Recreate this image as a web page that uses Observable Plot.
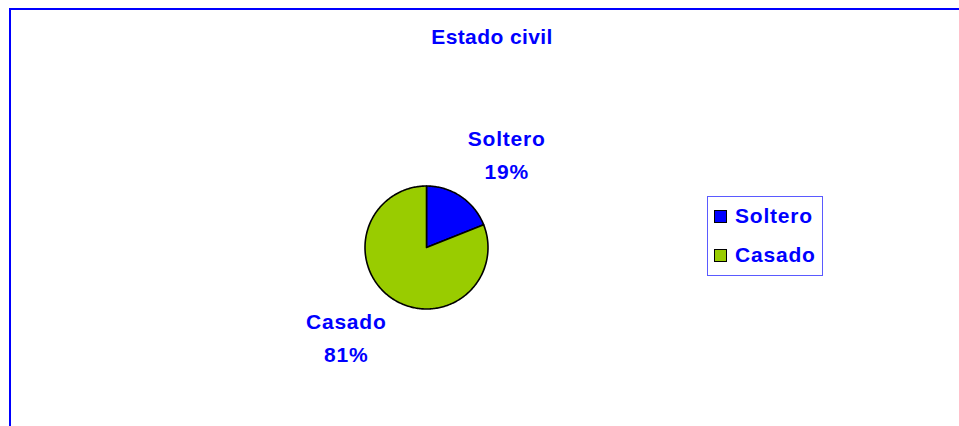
<!DOCTYPE html>
<html>
<head>
<meta charset="utf-8">
<script src="https://cdn.jsdelivr.net/npm/d3@7"></script>
<script src="https://cdn.jsdelivr.net/npm/@observablehq/plot@0.6"></script>
<style>
  html, body { margin: 0; padding: 0; background: #fff; }
  #wrap { position: relative; width: 959px; height: 426px; overflow: hidden; font-family: "Liberation Sans", Arial, sans-serif; }
  #frame { position: absolute; left: 9px; top: 8px; width: 960px; height: 430px; border-top: 2px solid #0000ff; border-left: 2px solid #0000ff; box-sizing: border-box; }
  #title { position: absolute; left: 392px; width: 200px; top: 25px; text-align: center; font-weight: bold; font-size: 21px; color: #0000ff; line-height: 24px; letter-spacing: 0.4px; }
  #legend { position: absolute; left: 707px; top: 196px; width: 116px; height: 80px; box-sizing: border-box; border: 1px solid #5a5aff; }
  .item { position: absolute; left: 6px; display: flex; align-items: center; font-weight: bold; font-size: 21px; color: #0000ff; letter-spacing: 0.8px; line-height: 22px; }
  .sw { width: 11px; height: 11px; border: 1px solid #000; margin-right: 8px; }
  #plot { position: absolute; left: 0; top: 0; }
</style>
</head>
<body>
<div id="wrap">
  <div id="plot"></div>
  <div id="frame"></div>
  <div id="title"></div>
  <div id="legend"></div>
</div>
<script>
const categories = ["Soltero", "Casado"];
const values = [19, 81];
const colors = ["#0000ff", "#99cc00"];
const chartTitle = "Estado civil";

const data = categories.map((c, i) => ({cat: c, value: values[i]}));
const pie = d3.pie().sort(null).value(d => d.value)(data);

// slice outlines in unit-circle data space, angle clockwise from 12 o'clock
const outline = [];
pie.forEach(p => {
  const n = Math.max(2, Math.ceil((p.endAngle - p.startAngle) / (Math.PI / 180)));
  outline.push({cat: p.data.cat, x: 0, y: 0});
  for (let k = 0; k <= n; k++) {
    const a = p.startAngle + (p.endAngle - p.startAngle) * k / n;
    outline.push({cat: p.data.cat, x: Math.sin(a), y: Math.cos(a)});
  }
  outline.push({cat: p.data.cat, x: 0, y: 0});
});

// label box: anchored outside the pie along the mid-angle, offset by half the box size
const anchorR = 1.2, halfW = 0.63, halfH = 0.49;
const labels = pie.map(p => {
  const a = (p.startAngle + p.endAngle) / 2;
  const ax = anchorR * Math.sin(a), ay = anchorR * Math.cos(a);
  return {cat: p.data.cat, x: ax + Math.sign(ax) * halfW, y: ay + Math.sign(ay) * halfH, text: `${p.data.cat}\n${p.data.value}%`};
});

const cx = 426, cy = 247, r = 61.5;
const chart = Plot.plot({
  width: 959,
  height: 426,
  margin: 0,
  style: {background: "transparent", overflow: "visible"},
  x: {domain: [-1, 1], range: [cx - r, cx + r], axis: null},
  y: {domain: [-1, 1], range: [cy + r, cy - r], axis: null},
  color: {domain: categories, range: colors},
  marks: [
    Plot.line(outline, {x: "x", y: "y", z: "cat", fill: "cat", stroke: "#000", strokeWidth: 1.6, strokeLinejoin: "round"}),
    Plot.text(labels, {x: "x", y: "y", text: "text", fill: "#0000ff", fontSize: 21, fontWeight: "bold", dy: -4,
      fontFamily: "Liberation Sans, Arial, sans-serif", lineHeight: 1.57})
  ]
});
document.getElementById("plot").appendChild(chart);
chart.querySelectorAll("text").forEach(t => t.style.letterSpacing = "0.8px");

document.getElementById("title").textContent = chartTitle;
const leg = document.getElementById("legend");
categories.forEach((c, i) => {
  const it = document.createElement("div");
  it.className = "item";
  it.style.top = (8 + i * 39) + "px";
  const sw = document.createElement("div");
  sw.className = "sw";
  sw.style.background = colors[i];
  const tx = document.createElement("span");
  tx.textContent = c;
  it.appendChild(sw); it.appendChild(tx);
  leg.appendChild(it);
});
</script>
</body>
</html>
